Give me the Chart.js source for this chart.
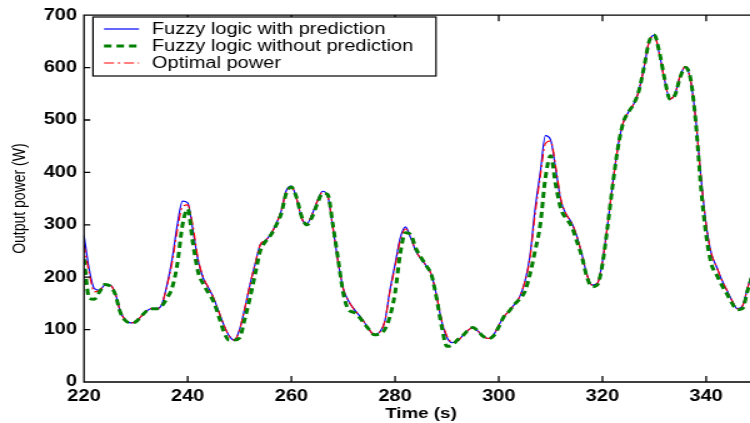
<!DOCTYPE html>
<html>
<head>
<meta charset="utf-8">
<script src="https://cdn.jsdelivr.net/npm/chart.js@4.4.1/dist/chart.umd.min.js"></script>
<style>
  html, body { margin: 0; padding: 0; background: #fff; overflow: hidden; width: 750px; height: 423px; }
  #wrap { position: absolute; left: 0; top: 0; transform: scaleX(1.25); transform-origin: 0 0; }
</style>
</head>
<body>
<div id="wrap"><canvas id="c" width="608" height="423"></canvas></div>
<script>
// Time axis: 1 s samples starting at 220 s
const tStart = 220;
const xTickLabels = [220, 240, 260, 280, 300, 320, 340];
const yTickLabels = [0, 100, 200, 300, 400, 500, 600, 700];

const withPrediction = [
  280, 215, 178, 175, 185, 185, 170, 135, 118, 113,
  115, 125, 135, 140, 140, 148, 185, 235, 300, 345,
  342, 290, 232, 198, 180, 160, 134, 108, 88, 80,
  100, 140, 185, 225, 262, 270, 282, 300, 325, 365,
  374, 350, 312, 302, 320, 345, 364, 355, 295, 230,
  178, 155, 140, 128, 115, 100, 90, 95, 115, 175,
  225, 275, 296, 275, 250, 235, 222, 205, 165, 115,
  85, 75, 78, 88, 98, 104, 97, 87, 83, 90,
  108, 125, 135, 148, 162, 190, 240, 330, 400, 470,
  462, 405, 345, 320, 305, 280, 245, 205, 185, 188,
  230, 300, 380, 450, 495, 515, 530, 555, 600, 650,
  662, 625, 575, 540, 550, 585, 602, 575, 500, 390,
  300, 245, 220, 195, 175, 155, 140, 145, 180, 210,
  230
];

const withoutPrediction = [
  235, 160, 158, 172, 186, 183, 168, 133, 117, 113,
  115, 125, 135, 140, 140, 145, 160, 180, 225, 300,
  330, 265, 210, 187, 170, 153, 125, 95, 80, 80,
  84, 120, 160, 205, 250, 268, 280, 298, 320, 360,
  372, 352, 315, 300, 315, 340, 360, 358, 300, 235,
  170, 138, 133, 125, 112, 100, 90, 92, 100, 125,
  170, 245, 285, 282, 255, 238, 222, 205, 160, 105,
  68, 70, 80, 88, 98, 104, 97, 87, 83, 88,
  105, 125, 135, 148, 158, 172, 205, 250, 300, 390,
  432, 375, 330, 312, 298, 270, 240, 200, 182, 185,
  225, 298, 378, 448, 495, 515, 530, 555, 600, 650,
  662, 628, 578, 540, 548, 582, 600, 578, 495, 370,
  280, 225, 205, 185, 168, 150, 138, 140, 175, 205,
  225
];

const optimalPower = [
  262, 208, 172, 175, 185, 185, 170, 135, 118, 113,
  115, 125, 135, 140, 140, 148, 183, 228, 290, 335,
  338, 298, 235, 200, 180, 160, 134, 108, 88, 80,
  100, 140, 185, 225, 262, 270, 282, 300, 325, 362,
  372, 350, 312, 302, 320, 345, 362, 355, 295, 230,
  178, 155, 140, 128, 115, 100, 90, 95, 115, 172,
  220, 270, 292, 278, 250, 235, 222, 205, 165, 118,
  88, 76, 78, 88, 98, 104, 97, 87, 83, 90,
  108, 125, 135, 148, 162, 190, 235, 320, 392, 455,
  460, 410, 348, 320, 305, 280, 245, 205, 185, 188,
  230, 300, 380, 450, 495, 515, 530, 555, 600, 650,
  660, 625, 575, 540, 550, 585, 602, 575, 500, 390,
  300, 245, 220, 195, 175, 155, 140, 145, 180, 210,
  230
];

const seriesLabels = ['Fuzzy logic with prediction', 'Fuzzy logic without prediction', 'Optimal power'];

const toXY = arr => arr.map((v, i) => ({ x: tStart + i, y: v }));

const framePlugin = {
  id: 'frame',
  afterDatasetsDraw(chart) {
    const { ctx, chartArea: a, scales: { x, y } } = chart;
    ctx.save();
    ctx.strokeStyle = '#000';
    ctx.lineWidth = 1.3;
    ctx.beginPath();
    ctx.rect(a.left, a.top, a.right - a.left, a.bottom - a.top);
    x.ticks.forEach(t => {
      const px = x.getPixelForValue(t.value);
      if (px <= a.left + 1 || px >= a.right - 1) return;
      ctx.moveTo(px, a.bottom); ctx.lineTo(px, a.bottom - 6);
      ctx.moveTo(px, a.top); ctx.lineTo(px, a.top + 6);
    });
    y.ticks.forEach(t => {
      const py = y.getPixelForValue(t.value);
      if (py >= a.bottom - 1 || py <= a.top + 1) return;
      ctx.moveTo(a.left, py); ctx.lineTo(a.left + 5, py);
    });
    ctx.stroke();

    // legend box
    const bx = 74.4, by = 17, bw = 274.4, bh = 59;
    ctx.fillStyle = '#fff';
    ctx.fillRect(bx, by, bw, bh);
    ctx.lineWidth = 1.2;
    ctx.strokeRect(bx, by, bw, bh);
    const rowY = [29, 46, 63];
    ctx.font = '16px "Liberation Sans", Arial, sans-serif';
    ctx.textBaseline = 'middle';
    ctx.textAlign = 'left';
    [0, 1, 2].forEach((di, k) => {
      const ds = chart.data.datasets[di];
      ctx.save();
      ctx.strokeStyle = ds.borderColor;
      ctx.lineWidth = ds.borderWidth;
      ctx.setLineDash(ds.borderDash || []);
      ctx.beginPath();
      ctx.moveTo(83.2, rowY[k]);
      ctx.lineTo(111.2, rowY[k]);
      ctx.stroke();
      ctx.restore();
      ctx.fillStyle = '#000';
      ctx.fillText(ds.label, 121.6, rowY[k] + 1);
    });
    ctx.restore();
  }
};

new Chart(document.getElementById('c'), {
  type: 'line',
  data: {
    datasets: [
      { label: seriesLabels[0], data: toXY(withPrediction), borderColor: '#0000ff', borderWidth: 1.2, pointRadius: 0, cubicInterpolationMode: 'monotone', order: 2 },
      { label: seriesLabels[1], data: toXY(withoutPrediction), borderColor: '#008000', borderWidth: 3, borderDash: [6, 4], pointRadius: 0, cubicInterpolationMode: 'monotone', order: 0 },
      { label: seriesLabels[2], data: toXY(optimalPower), borderColor: '#ff0000', borderWidth: 1.2, borderDash: [8, 3, 2, 3], pointRadius: 0, cubicInterpolationMode: 'monotone', order: 1 }
    ]
  },
  options: {
    responsive: false,
    animation: false,
    devicePixelRatio: 1,
    layout: { padding: { left: 0, right: 1.6, top: 12, bottom: 0 } },
    plugins: { legend: { display: false }, tooltip: { enabled: false } },
    scales: {
      x: {
        type: 'linear', min: 220, max: 350,
        grid: { display: false, drawTicks: false },
        border: { display: false },
        afterBuildTicks: s => { s.ticks = xTickLabels.map(v => ({ value: v })); },
        afterFit: s => { s.height = 41; },
        ticks: { color: '#000', padding: 5, maxRotation: 0, font: { family: '"Liberation Sans", Arial, sans-serif', size: 16, weight: 'bold' } },
        title: { display: true, text: 'Time (s)', color: '#000', padding: { top: 0, bottom: 0 }, font: { family: '"Liberation Sans", Arial, sans-serif', size: 15, weight: 'bold' } }
      },
      y: {
        min: 0, max: 700,
        grid: { display: false, drawTicks: false },
        border: { display: false },
        afterBuildTicks: s => { s.ticks = yTickLabels.map(v => ({ value: v })); },
        afterFit: s => { s.width = 67.2; },
        ticks: { color: '#000', padding: 5.6, font: { family: '"Liberation Sans", Arial, sans-serif', size: 16, weight: 'bold' } },
        title: { display: true, text: 'Output power (W)', color: '#000', padding: { top: 8, bottom: 0 }, font: { family: '"Liberation Sans", Arial, sans-serif', size: 14 } }
      }
    }
  },
  plugins: [framePlugin]
});
</script>
</body>
</html>
